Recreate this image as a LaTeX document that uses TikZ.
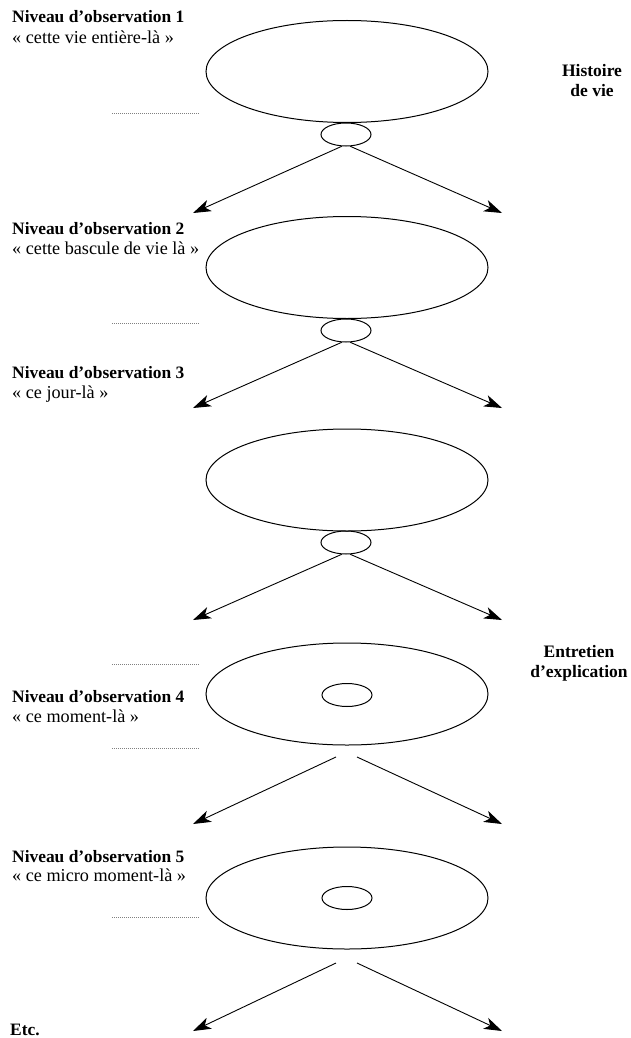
\documentclass[tikz,border=0pt]{standalone}
\usepackage{fontspec}
\setmainfont{Liberation Serif}
\usepackage{tikz}
\usetikzlibrary{shapes.geometric,arrows.meta}
\tikzstyle{grand} = [ellipse, draw, line width=1pt, minimum width=282pt, minimum height=102pt, inner sep=0pt]
\tikzstyle{petit} = [ellipse, draw, line width=1pt, minimum width=50pt, minimum height=23pt, inner sep=0pt]
\tikzstyle{titre} = [anchor=base west, inner sep=0pt, font=\fontsize{17.4}{20}\selectfont\bfseries]
\tikzstyle{citation} = [anchor=base west, inner sep=0pt, font=\fontsize{18.2}{20}\selectfont]
\tikzstyle{cote} = [anchor=base, inner sep=0pt, font=\fontsize{17.5}{20}\selectfont\bfseries]
\tikzstyle{fleche} = [line width=0.9pt, -{Stealth[length=18pt,width=12pt,inset=5pt]}]
\tikzstyle{pointille} = [line width=0.7pt, gray, dash pattern=on 0.7pt off 1.3pt]

\begin{document}
\begin{tikzpicture}[x=1pt, y=-1pt]
\useasboundingbox (0,0) rectangle (630,1038);
% les cinq niveaux
\node(E1)[grand] at (347,71.5) {};
\node(S1)[petit] at (346,134.5) {};
\node(E2)[grand] at (347,267.5) {};
\node(S2)[petit] at (346,330.5) {};
\node(E3)[grand] at (347,480) {};
\node(S3)[petit] at (346,542.5) {};
\node(E4)[grand] at (347,694) {};
\node(S4)[petit] at (347,695) {};
\node(E5)[grand] at (347,898) {};
\node(S5)[petit] at (347,898) {};
% pointes des fleches
\coordinate(G1) at (193,213); \coordinate(D1) at (502,213);
\coordinate(G2) at (193,408); \coordinate(D2) at (502,408);
\coordinate(G3) at (193,620); \coordinate(D3) at (502,620);
\coordinate(G4) at (193,824); \coordinate(D4) at (502,824);
\coordinate(G5) at (193,1031); \coordinate(D5) at (502,1031);
\coordinate(H4) at (336,757); \coordinate(K4) at (357,757);
\coordinate(H5) at (336,963); \coordinate(K5) at (357,963);
\draw[fleche](S1.250)--(G1);
\draw[fleche](S1.290)--(D1);
\draw[fleche](S2.250)--(G2);
\draw[fleche](S2.290)--(D2);
\draw[fleche](S3.250)--(G3);
\draw[fleche](S3.290)--(D3);
\draw[fleche](H4)--(G4);
\draw[fleche](K4)--(D4);
\draw[fleche](H5)--(G5);
\draw[fleche](K5)--(D5);
% textes
\node(N1)[titre] at (12,23) {Niveau d’observation 1};
\node(C1)[citation] at (12,44) {« cette vie entière-là »};
\node(N2)[titre] at (12,234) {Niveau d’observation 2};
\node(C2)[citation] at (12,254) {« cette bascule de vie là »};
\node(N3)[titre] at (12,378) {Niveau d’observation 3};
\node(C3)[citation] at (12,398) {« ce jour-là »};
\node(N4)[titre] at (12,702) {Niveau d’observation 4};
\node(C4)[citation] at (12,722) {« ce moment-là »};
\node(N5)[titre] at (12,862) {Niveau d’observation 5};
\node(C5)[citation] at (12,881) {« ce micro moment-là »};
\node(N6)[titre] at (10,1035) {Etc.};
\node(R1)[cote] at (592,77) {Histoire};
\node(R2)[cote] at (592,97) {de vie};
\node(R3)[cote] at (579,657) {Entretien};
\node(R4)[cote] at (579,677) {d’explication};
% pointilles
\draw[pointille](112,113)--(199,113);
\draw[pointille](112,323)--(199,323);
\draw[pointille](112,664)--(199,664);
\draw[pointille](112,748)--(199,748);
\draw[pointille](112,917)--(199,917);
\end{tikzpicture}
\end{document}
